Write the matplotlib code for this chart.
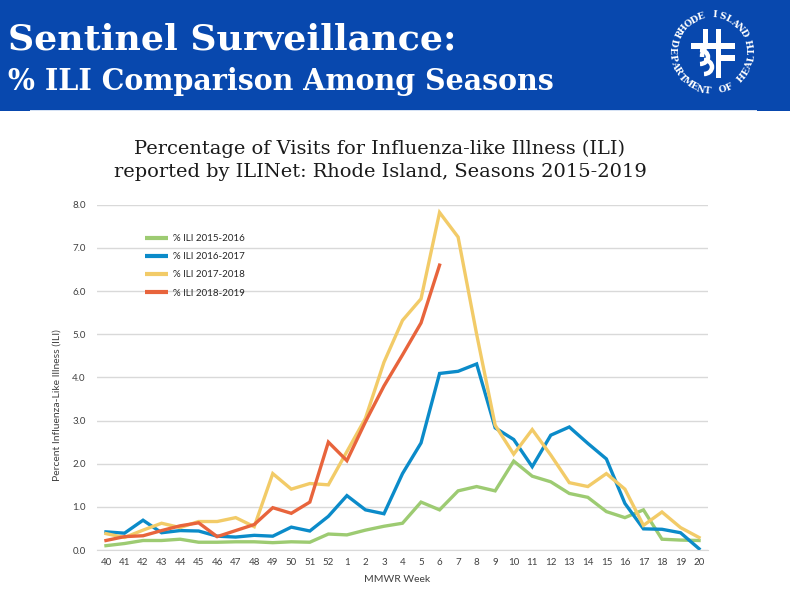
import numpy as np
import matplotlib
matplotlib.use("Agg")
import matplotlib.pyplot as plt
from matplotlib.patches import Rectangle, Arc

weeks = ['40', '41', '42', '43', '44', '45', '46', '47', '48', '49', '50', '51', '52',
         '1', '2', '3', '4', '5', '6', '7', '8', '9', '10', '11', '12', '13', '14',
         '15', '16', '17', '18', '19', '20']
ili_2015_2016 = [0.10, 0.15, 0.22, 0.22, 0.25, 0.18, 0.18, 0.19, 0.19, 0.17, 0.19, 0.18, 0.37,
                 0.35, 0.46, 0.55, 0.62, 1.11, 0.93, 1.37, 1.47, 1.37, 2.06, 1.71, 1.58, 1.31,
                 1.22, 0.89, 0.75, 0.93, 0.25, 0.23, 0.22]
ili_2016_2017 = [0.42, 0.39, 0.69, 0.40, 0.45, 0.44, 0.32, 0.30, 0.34, 0.32, 0.53, 0.44, 0.78,
                 1.26, 0.93, 0.84, 1.77, 2.48, 4.09, 4.14, 4.31, 2.83, 2.56, 1.93, 2.66, 2.85,
                 2.47, 2.11, 1.08, 0.49, 0.48, 0.40, 0.03]
ili_2017_2018 = [0.38, 0.29, 0.46, 0.62, 0.52, 0.66, 0.66, 0.75, 0.54, 1.77, 1.41, 1.54, 1.51,
                 2.28, 3.05, 4.35, 5.32, 5.82, 7.82, 7.25, 5.00, 2.89, 2.22, 2.79, 2.20, 1.56,
                 1.47, 1.77, 1.41, 0.57, 0.88, 0.52, 0.29]
ili_2018_2019 = [0.22, 0.31, 0.33, 0.45, 0.56, 0.63, 0.31, 0.45, 0.59, 0.98, 0.85, 1.11, 2.50,
                 2.07, 2.97, 3.80, 4.52, 5.26, 6.60]
series_labels = ['% ILI 2015-2016', '% ILI 2016-2017', '% ILI 2017-2018', '% ILI 2018-2019']
series_colors = ['#9DCB72', '#0B8BC9', '#F2CB68', '#E8643C']
y_ticks = [0.0, 1.0, 2.0, 3.0, 4.0, 5.0, 6.0, 7.0, 8.0]

W, H = 790, 590
fig = plt.figure(figsize=(W / 100, H / 100), dpi=100)
renderer = fig.canvas.get_renderer()


def fx(x):
    return x / W


def fy(y):
    return 1 - y / H


def fit_width(t, target):
    ext = t.get_window_extent(renderer)
    t.set_fontsize(t.get_fontsize() * target / ext.width)


# banner
BLUE = '#0848AE'
fig.patches.append(Rectangle((0, fy(111)), 1, 111 / H, transform=fig.transFigure,
                             facecolor=BLUE, edgecolor='none', zorder=-3))
fig.patches.append(Rectangle((fx(30), fy(111)), fx(727), 1.2 / H, transform=fig.transFigure,
                             facecolor='#D6E2F4', edgecolor='none', zorder=-2))

t1 = fig.text(fx(8), fy(49), 'Sentinel Surveillance:', color='white', fontsize=30,
              fontfamily='DejaVu Serif', fontweight='bold', va='baseline', ha='left')
fit_width(t1, 449)
t2 = fig.text(fx(8), fy(90), '% ILI Comparison Among Seasons', color='white', fontsize=24,
              fontfamily='DejaVu Serif', fontweight='bold', va='baseline', ha='left')
fit_width(t2, 547)

# logo
cx, cy = 712, 51
for txt, a0, a1, r, outward in [('RHODE ISLAND', 153, 29, 36, True),
                                 ('DEPARTMENT OF HEALTH', 168, 371, 40, False)]:
    n = len(txt)
    angs = np.linspace(a0, a1, n)
    for ch, a in zip(txt, angs):
        ar = np.deg2rad(a)
        px = cx + r * np.cos(ar)
        py = cy - r * np.sin(ar)
        rot = a - 90 if outward else a + 90
        fig.text(fx(px), fy(py), ch, color='white', fontsize=6.6, fontfamily='DejaVu Serif',
                 fontweight='bold', ha='center', va='center', rotation=rot,
                 rotation_mode='anchor')

lax = fig.add_axes([fx(680), fy(82), 64 / W, 64 / H])
lax.set_zorder(5)
lax.set_xlim(680, 744)
lax.set_ylim(82, 18)
lax.axis('off')
for (x0, y0, w, h) in [(703, 29, 5, 15), (716, 29, 5, 15), (691, 43, 44, 6),
                       (716, 49, 5, 29), (716, 55, 19, 6)]:
    lax.add_patch(Rectangle((x0, y0), w, h, facecolor='white', edgecolor='none'))
lax.add_patch(Arc((700, 57), 16, 14, theta1=-90, theta2=90, color='white', lw=3.2))
lax.add_patch(Arc((704, 67), 16, 14, theta1=-90, theta2=90, color='white', lw=3.2))
lax.add_patch(Arc((709, 57), 14, 22, theta1=180, theta2=270, color='white', lw=3.2))

# chart title
c1 = fig.text(fx(380), fy(154), 'Percentage of Visits for Influenza-like Illness (ILI)',
              fontsize=15, fontfamily='DejaVu Serif', color='#1a1a1a', ha='center',
              va='baseline')
fit_width(c1, 490)
c2 = fig.text(fx(380), fy(177), 'reported by ILINet: Rhode Island, Seasons 2015-2019',
              fontsize=15, fontfamily='DejaVu Serif', color='#1a1a1a', ha='center',
              va='baseline')
c2.set_fontsize(c1.get_fontsize())

# axes
left, right, top, bottom = 96.7, 708.3, 204.7, 550
ax = fig.add_axes([fx(left), fy(bottom), (right - left) / W, (bottom - top) / H])
x = np.arange(len(weeks))
all_series = [ili_2015_2016, ili_2016_2017, ili_2017_2018, ili_2018_2019]
for vals, lab, col in zip(all_series, series_labels, series_colors):
    v = np.full(len(weeks), np.nan)
    v[:len(vals)] = vals
    ax.plot(x, v, color=col, lw=2.4, label=lab, solid_joinstyle='miter')

ax.set_xlim(-0.5, len(weeks) - 0.5)
ax.set_ylim(0, 8)
ax.set_yticks(y_ticks)
ax.set_yticklabels([f'{v:.1f}' for v in y_ticks])
ax.set_xticks(x)
ax.set_xticklabels(weeks)
ax.grid(axis='y', color='#D9D9D9', lw=1)
ax.set_axisbelow(True)
for s in ['top', 'right', 'left']:
    ax.spines[s].set_visible(False)
ax.spines['bottom'].set_color('#D9D9D9')
ax.tick_params(length=0, labelsize=7, labelcolor='#404040')
ax.tick_params(axis='y', pad=8)
ax.tick_params(axis='x', pad=6)
for lbl in ax.get_xticklabels() + ax.get_yticklabels():
    lbl.set_fontfamily('Lato')

fig.text(fx(397), fy(580), 'MMWR Week', fontsize=7.5, fontfamily='Lato', color='#404040',
         ha='center', va='center')
fig.text(fx(57), fy(405), 'Percent Influenza-Like Illness (ILI)', fontsize=7.5,
         fontfamily='Lato', color='#404040', ha='center', va='center', rotation=90)

leg = ax.legend(loc='upper left', bbox_to_anchor=(fx(145), fy(234)),
                bbox_transform=fig.transFigure, frameon=False,
                handlelength=2.4, handletextpad=0.5, labelspacing=0.95, borderpad=0,
                borderaxespad=0, prop={'family': 'Lato', 'size': 7})
for t in leg.get_texts():
    t.set_color('#262626')
for l in leg.get_lines():
    l.set_linewidth(3)
    l.set_solid_capstyle('butt')

fig.savefig('out.png', dpi=100)
